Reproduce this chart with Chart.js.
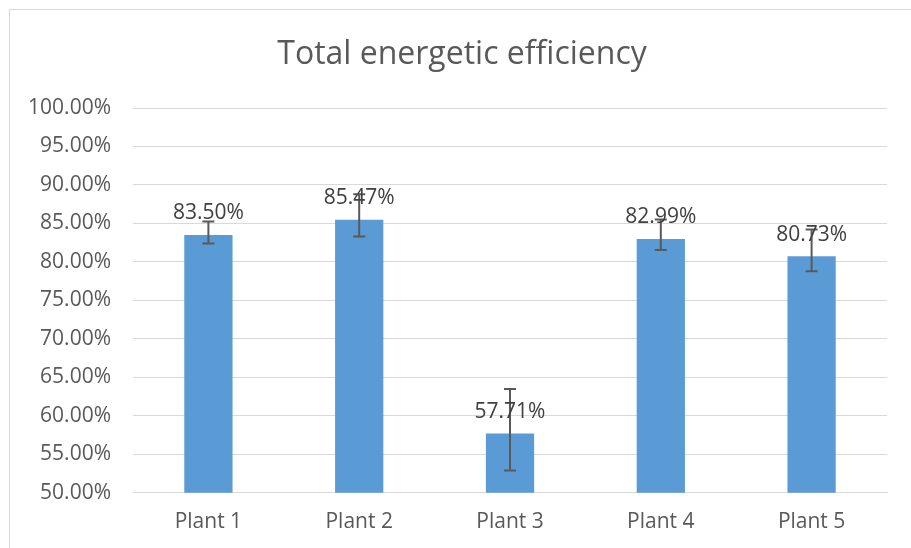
<!DOCTYPE html>
<html>
<head>
<meta charset="utf-8">
<script src="https://cdn.jsdelivr.net/npm/chart.js@4"></script>
<style>
  html, body { margin: 0; padding: 0; background: #fff; }
  #wrap { position: relative; width: 911px; height: 548px; overflow: hidden; }
  #frame { position: absolute; left: 9px; top: 9px; width: 940px; height: 600px; border: 1px solid #d9d9d9; }
  canvas { position: absolute; left: 0; top: 0; }
</style>
</head>
<body>
<div id="wrap">
  <div id="frame"></div>
  <canvas id="chart" width="911" height="548"></canvas>
</div>
<script>
const plants = ['Plant 1', 'Plant 2', 'Plant 3', 'Plant 4', 'Plant 5'];
const efficiency = [83.50, 85.47, 57.71, 82.99, 80.73];
const errHigh = [85.25, 88.8, 63.5, 85.5, 84.2];
const errLow = [82.4, 83.3, 52.9, 81.55, 78.8];
const chartTitle = 'Total energetic efficiency';

const textColor = '#595959';
const fontFamily = '"Open Sans", "Noto Sans", sans-serif';

// title (centred like the Excel one, a bit right of the canvas middle),
// error bars + value labels, drawn through the chart's own scales
const extras = {
    id: 'extras',
    beforeDraw(chart) {
        const ctx = chart.ctx;
        ctx.save();
        ctx.font = '32px ' + fontFamily;
        ctx.fillStyle = textColor;
        ctx.textAlign = 'center';
        ctx.textBaseline = 'middle';
        ctx.fillText(chartTitle, 462, 55);
        ctx.restore();
    },
    afterDatasetsDraw(chart) {
        const ctx = chart.ctx;
        const y = chart.scales.y;
        const meta = chart.getDatasetMeta(0);
        ctx.save();
        meta.data.forEach((bar, i) => {
            const x = bar.x;
            const top = y.getPixelForValue(errHigh[i]);
            const bot = y.getPixelForValue(errLow[i]);
            ctx.strokeStyle = '#595959';
            ctx.lineWidth = 2;
            ctx.beginPath();
            ctx.moveTo(x, top); ctx.lineTo(x, bot);
            ctx.moveTo(x - 6, top); ctx.lineTo(x + 6, top);
            ctx.moveTo(x - 6, bot); ctx.lineTo(x + 6, bot);
            ctx.stroke();
        });
        ctx.font = '21px ' + fontFamily;
        ctx.fillStyle = '#404040';
        ctx.textAlign = 'center';
        ctx.textBaseline = 'bottom';
        meta.data.forEach((bar, i) => {
            ctx.fillText(efficiency[i].toFixed(2) + '%', bar.x, bar.y - 11);
        });
        ctx.restore();
    }
};

new Chart(document.getElementById('chart'), {
    type: 'bar',
    data: {
        labels: plants,
        datasets: [{
            data: efficiency,
            backgroundColor: '#5B9BD5',
            barPercentage: 0.64,
            categoryPercentage: 0.5
        }]
    },
    options: {
        responsive: false,
        animation: false,
        layout: { padding: { left: 0, right: 24, top: 108, bottom: 4 } },
        scales: {
            y: {
                min: 50,
                max: 100,
                ticks: {
                    stepSize: 5,
                    color: textColor,
                    padding: 22,
                    font: { size: 21, family: fontFamily },
                    callback: v => v.toFixed(2) + '%'
                },
                grid: { color: '#d9d9d9', lineWidth: 1, drawTicks: false },
                border: { display: false },
                afterFit: s => { s.width = 133; }
            },
            x: {
                ticks: {
                    color: textColor,
                    padding: 9,
                    font: { size: 21, family: fontFamily }
                },
                grid: { display: false },
                border: { color: '#d9d9d9' }
            }
        },
        plugins: {
            legend: { display: false },
            tooltip: { enabled: false },
            title: { display: false }
        }
    },
    plugins: [extras]
});
</script>
</body>
</html>
